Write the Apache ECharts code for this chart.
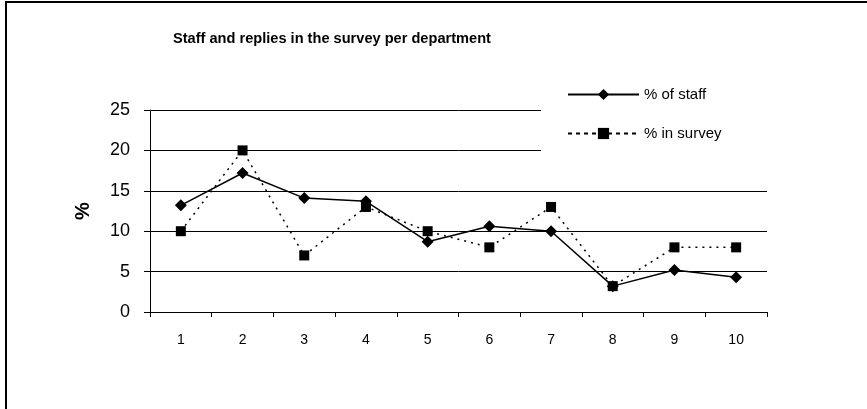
<!DOCTYPE html>
<html>
<head>
<meta charset="utf-8">
<script src="https://cdn.jsdelivr.net/npm/echarts@6/dist/echarts.min.js"></script>
<style>html,body{margin:0;padding:0;background:#fff;}#c{width:867px;height:409px;}</style>
</head>
<body>
<div id="c"></div>
<script>
var categories = ['1','2','3','4','5','6','7','8','9','10'];
var staffPct = [13.2, 17.2, 14.1, 13.7, 8.7, 10.6, 10.0, 3.2, 5.2, 4.3];
var surveyPct = [10, 20, 7, 13, 10, 8, 13, 3.2, 8, 8];
var seriesNames = ['% of staff', '% in survey'];
var titleText = 'Staff and replies in the survey per department';

var FONT = 'Liberation Sans, Arial, sans-serif';
var chart = echarts.init(document.getElementById('c'));
chart.setOption({
  animation: false,
  backgroundColor: '#fff',
  textStyle: { fontFamily: FONT },
  title: {
    text: titleText,
    left: 173, top: 31,
    padding: 0,
    textStyle: { fontFamily: FONT, fontSize: 14.6, fontWeight: 'bold', color: '#000' }
  },
  graphic: [{
    type: 'rect', silent: true, z: 100,
    shape: { x: 6, y: 2, width: 1000, height: 600 },
    style: { fill: 'none', stroke: '#000', lineWidth: 2 }
  }],
  legend: {
    orient: 'vertical',
    left: 541, top: 81,
    padding: [6, 60, 14, 26],
    backgroundColor: '#fff',
    itemWidth: 71, itemHeight: 14, itemGap: 24,
    textStyle: { fontFamily: FONT, fontSize: 15, color: '#000', padding: [0, 0, 0, 0] },
    data: [
      { name: seriesNames[0] },
      { name: seriesNames[1], lineStyle: { type: [4, 4] } }
    ]
  },
  grid: { left: 150, right: 100, top: 110, bottom: 97, containLabel: false },
  xAxis: {
    type: 'category',
    data: categories,
    boundaryGap: true,
    axisLine: { lineStyle: { color: '#000', width: 1 } },
    axisTick: { show: true, alignWithLabel: false, length: 5, lineStyle: { color: '#000' } },
    axisLabel: { margin: 21, fontSize: 14, color: '#000', fontFamily: FONT }
  },
  yAxis: {
    type: 'value',
    min: 0, max: 25, interval: 5,
    name: '%',
    nameLocation: 'middle',
    nameRotate: 90,
    nameGap: 57,
    nameTextStyle: { fontFamily: FONT, fontSize: 20, fontWeight: 'bold', color: '#000' },
    axisLine: { show: true, lineStyle: { color: '#000', width: 1 } },
    axisTick: { show: true, length: 6, lineStyle: { color: '#000' } },
    axisLabel: { margin: 20, fontSize: 18, color: '#000', fontFamily: FONT },
    splitLine: { show: true, lineStyle: { color: '#000', width: 1 } }
  },
  series: [{
    name: seriesNames[0],
    type: 'line',
    data: staffPct,
    symbol: 'diamond',
    symbolSize: 12,
    lineStyle: { color: '#000', width: 1.5, type: 'solid' },
    itemStyle: { color: '#000', borderWidth: 0 },
    z: 3
  }, {
    name: seriesNames[1],
    type: 'line',
    data: surveyPct,
    symbol: 'rect',
    symbolSize: 10,
    lineStyle: { color: '#000', width: 1.5, type: [2, 5] },
    itemStyle: { color: '#000', borderWidth: 0 },
    z: 2
  }]
});
</script>
</body>
</html>
